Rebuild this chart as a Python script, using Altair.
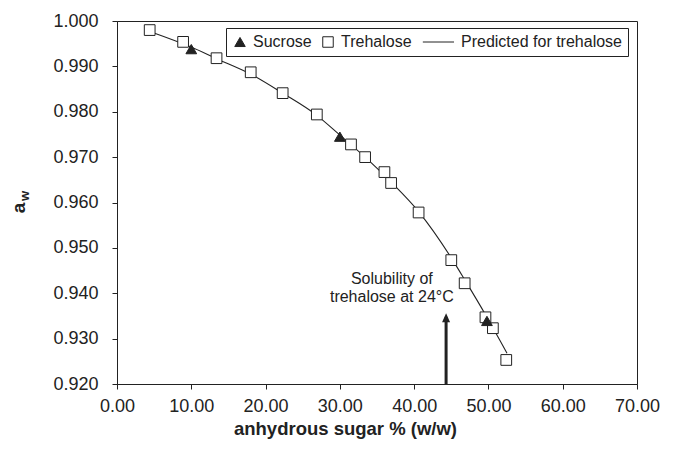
import altair as alt
import pandas as pd

# ---- data ----
tre_x = [4.4, 8.9, 13.4, 18.0, 22.3, 26.9, 31.5, 33.4, 36.0, 36.9, 40.6, 45.0, 46.8, 49.6, 50.6, 52.4]
tre_y = [0.9980, 0.9954, 0.9918, 0.9887, 0.9841, 0.9794, 0.9728, 0.9700, 0.9667, 0.9643,
         0.9578, 0.9473, 0.9422, 0.9347, 0.9323, 0.9253]
suc_x = [10.0, 30.0, 49.8]
suc_y = [0.9938, 0.9745, 0.9339]
pred_x = [4.4, 9.9, 13.4, 18.0, 22.3, 26.9, 29.9, 33.4, 36.9, 40.6, 45.0, 46.8, 49.7, 52.5]
pred_y = [0.9977, 0.9943, 0.9917, 0.9883, 0.9841, 0.9792, 0.9750, 0.9700, 0.9645, 0.9580,
          0.9478, 0.9430, 0.9350, 0.9268]

series_names = ["Sucrose", "Trehalose", "Predicted for trehalose"]
x_ticks = [0, 10, 20, 30, 40, 50, 60, 70]
y_ticks = [0.92, 0.93, 0.94, 0.95, 0.96, 0.97, 0.98, 0.99, 1.00]

note_lines = ["Solubility of", "trehalose at 24°C"]
note_x = [37.0, 37.0]
note_y = [0.9431, 0.9391]
arrow_x = [44.3]
arrow_base = [0.920]
arrow_tip = [0.9356]

# ---- tables ----
tre = pd.DataFrame({"x": tre_x, "y": tre_y, "series": "Trehalose"})
suc = pd.DataFrame({"x": suc_x, "y": suc_y, "series": "Sucrose"})
pred = pd.DataFrame({"x": pred_x, "y": pred_y, "series": "Predicted for trehalose"})
notes = pd.DataFrame({"x": note_x, "y": note_y, "t": note_lines})
arrow = pd.DataFrame({"x": arrow_x, "y": arrow_base, "y2": [t - 0.0008 for t in arrow_tip], "tip": arrow_tip})

INK = "#222222"
FONT = "Liberation Sans"

xs = alt.Scale(domain=[0, 70], nice=False, zero=False, padding=0)
ys = alt.Scale(domain=[0.92, 1.0], nice=False, zero=False, padding=0)

x_axis = alt.Axis(values=x_ticks, format=".2f", title="anhydrous sugar % (w/w)",
                  labelFontSize=18, labelPadding=8, tickSize=5, grid=False, labelFlush=False,
                  titleFontSize=18.5, titleFontWeight="bold", titleX=228, titleY=50,
                  titleBaseline="alphabetic", titleAlign="center")
y_axis = alt.Axis(values=y_ticks, format=".3f", title=None, labelFontSize=18, labelFlush=False,
                  labelPadding=14, tickSize=5, grid=False)

shape_scale = alt.Scale(domain=series_names, range=["triangle-up", "square", "M-4.8,0H1.15"])
fill_scale = alt.Scale(domain=series_names, range=[INK, "white", "transparent"])
stroke_scale = alt.Scale(domain=series_names, range=[INK, INK, INK])
leg = alt.Legend(title=None)

line = alt.Chart(pred).mark_line(strokeWidth=1.1, interpolate="monotone").encode(
    x=alt.X("x:Q", scale=xs, axis=x_axis),
    y=alt.Y("y:Q", scale=ys, axis=y_axis),
    stroke=alt.Stroke("series:N", scale=stroke_scale, legend=leg),
)


def point_layer(df):
    return alt.Chart(df).mark_point(filled=True, opacity=1, size=115, strokeWidth=1).encode(
        x=alt.X("x:Q", scale=xs),
        y=alt.Y("y:Q", scale=ys),
        shape=alt.Shape("series:N", scale=shape_scale, legend=leg),
        fill=alt.Fill("series:N", scale=fill_scale, legend=leg),
        stroke=alt.Stroke("series:N", scale=stroke_scale, legend=leg),
    )


tre_pts = point_layer(tre)
suc_pts = point_layer(suc)

note = alt.Chart(notes).mark_text(fontSize=16, color=INK, align="center", baseline="middle").encode(
    x=alt.X("x:Q", scale=xs), y=alt.Y("y:Q", scale=ys), text="t:N")

arrow_shaft = alt.Chart(arrow).mark_rule(strokeWidth=3, color=INK).encode(
    x=alt.X("x:Q", scale=xs), y=alt.Y("y:Q", scale=ys), y2="y2:Q")
arrow_head = alt.Chart(arrow).mark_point(shape="M0,0L1,2.25L-1,2.25Z", size=64, filled=True,
                                         opacity=1, color=INK).encode(
    x=alt.X("x:Q", scale=xs), y=alt.Y("tip:Q", scale=ys))

ytitle_a = alt.Chart(pd.DataFrame({"t": ["a"]})).mark_text(
    fontSize=19, fontWeight="bold", angle=270, color=INK, align="center", baseline="middle"
).encode(text="t:N", x=alt.value(-98), y=alt.value(187))
ytitle_w = alt.Chart(pd.DataFrame({"t": ["w"]})).mark_text(
    fontSize=13, fontWeight="bold", angle=270, color=INK, align="center", baseline="middle"
).encode(text="t:N", x=alt.value(-92), y=alt.value(175))

chart = alt.layer(line, tre_pts, suc_pts, note, arrow_shaft, arrow_head, ytitle_a, ytitle_w).properties(
    width=520, height=363,
    autosize=alt.AutoSizeParams(type="none"),
    padding={"left": 109, "top": 13, "right": 30, "bottom": 60},
).configure(font=FONT).configure_view(
    stroke=INK, strokeWidth=1
).configure_scale(
    continuousPadding=0
).configure_axis(
    domainColor=INK, tickColor=INK, labelColor=INK, titleColor=INK,
    labelFont=FONT, titleFont=FONT, domainWidth=1, tickWidth=1,
).configure_legend(
    orient="none", legendX=109, legendY=7, direction="horizontal", columns=3,
    strokeColor=INK, fillColor="white", padding=6, labelFontSize=16, labelFont=FONT,
    labelColor=INK, symbolSize=110, symbolStrokeWidth=1, labelOffset=5, columnPadding=8,
    labelLimit=0, symbolOpacity=1, cornerRadius=0,
)

chart.save("out.html", embed_options={"renderer": "svg", "actions": False})
